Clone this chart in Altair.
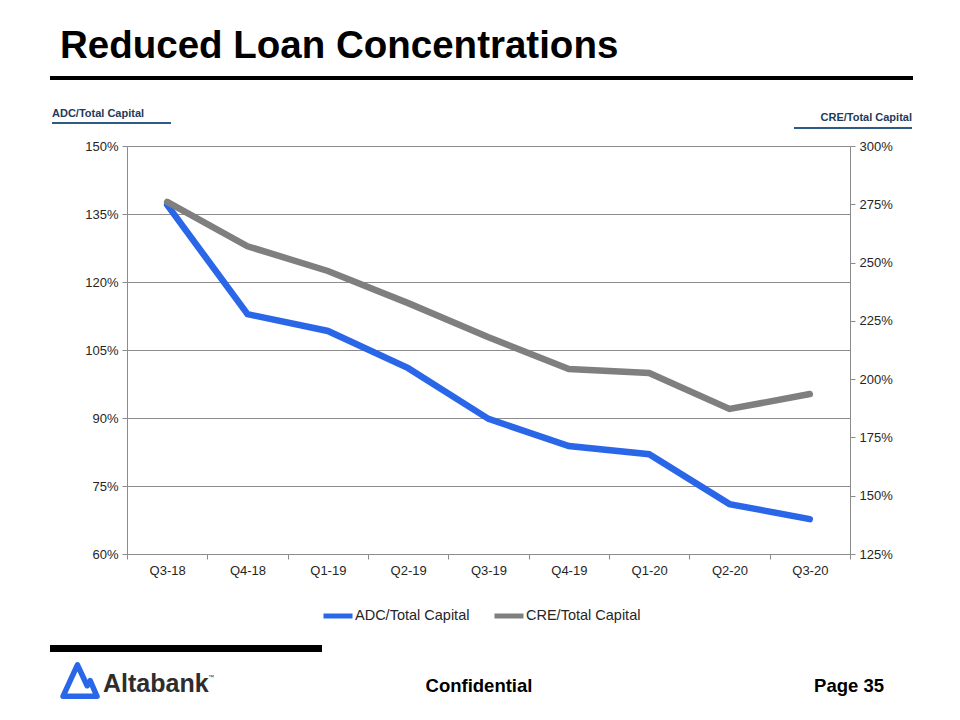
import altair as alt
import pandas as pd

# ---------------- data ----------------
quarters = ["Q3-18", "Q4-18", "Q1-19", "Q2-19", "Q3-19", "Q4-19", "Q1-20", "Q2-20", "Q3-20"]
adc_pct = [137.0, 112.9, 109.2, 101.0, 89.8, 83.8, 82.0, 71.0, 67.7]
cre_pct = [276.0, 257.0, 246.4, 232.6, 218.0, 204.3, 202.6, 187.2, 193.6]
series_names = ["ADC/Total Capital", "CRE/Total Capital"]
adc_ticks = [60, 75, 90, 105, 120, 135, 150]
cre_ticks = [125, 150, 175, 200, 225, 250, 275, 300]

df = pd.DataFrame({"quarter": quarters, "adc": adc_pct, "cre": cre_pct})

FONT = "Liberation Sans"
BLUE = "#2A66E8"
GRAY = "#7F7F7F"
AXIS_GRAY = "#8C8C8C"
LABEL = "#262626"
NAVY = "#1F3A5A"
UNDER = "#2E5B85"

color_scale = alt.Scale(domain=series_names, range=[BLUE, GRAY])

x_enc = alt.X(
    "quarter:N",
    sort=quarters,
    scale=alt.Scale(type="band", paddingInner=0, paddingOuter=0),
    bandPosition=0.5,
    axis=alt.Axis(
        title=None, labelAngle=0, tickBand="extent", grid=False,
        domainColor=AXIS_GRAY, tickColor=AXIS_GRAY, tickSize=5,
        labelFont=FONT, labelFontSize=13, labelColor=LABEL, labelPadding=5,
    ),
)

adc_line = (
    alt.Chart(df)
    .transform_calculate(series="'ADC/Total Capital'")
    .mark_line(strokeWidth=6.5, strokeCap="round")
    .encode(
        x=x_enc,
        y=alt.Y(
            "adc:Q",
            scale=alt.Scale(domain=[60, 150], nice=False, zero=False),
            axis=alt.Axis(
                title=None, values=adc_ticks, labelExpr="datum.value + '%'",
                grid=True, gridColor=AXIS_GRAY, gridWidth=1,
                domainColor=AXIS_GRAY, tickColor=AXIS_GRAY, tickSize=5,
                labelFont=FONT, labelFontSize=13, labelColor=LABEL, labelPadding=4,
            ),
        ),
        color=alt.Color(
            "series:N", scale=color_scale,
            legend=alt.Legend(
                orient="none", legendX=194, legendY=453, direction="horizontal",
                title=None, symbolType="stroke", symbolStrokeWidth=5, symbolSize=841,
                labelFont=FONT, labelFontSize=14.5, labelColor=LABEL,
                columnPadding=14, labelOffset=0, padding=0,
            ),
        ),
    )
)

cre_line = (
    alt.Chart(df)
    .transform_calculate(series="'CRE/Total Capital'")
    .mark_line(strokeWidth=6.5, strokeCap="round")
    .encode(
        x=x_enc,
        y=alt.Y(
            "cre:Q",
            scale=alt.Scale(domain=[125, 300], nice=False, zero=False),
            axis=alt.Axis(
                title=None, orient="right", values=cre_ticks, labelExpr="datum.value + '%'",
                grid=False, domainColor=AXIS_GRAY, tickColor=AXIS_GRAY, tickSize=5,
                labelFont=FONT, labelFontSize=13, labelColor=LABEL, labelPadding=4,
            ),
        ),
        color=alt.Color("series:N", scale=color_scale),
    )
)

lines = alt.layer(adc_line, cre_line).resolve_scale(y="independent")

# ---------------- decorations ----------------
one = pd.DataFrame({"k": [0]})


def txt(s, x, y, size, align="left", color="#000000", bold=True):
    return alt.Chart(one).mark_text(
        text=s, align=align, baseline="alphabetic", fontSize=size,
        fontWeight="bold" if bold else "normal", font=FONT, color=color,
    ).encode(x=alt.value(x), y=alt.value(y))


def box(x1, x2, y1, y2, color):
    return alt.Chart(one).mark_rect(color=color).encode(
        x=alt.value(x1), x2=alt.value(x2), y=alt.value(y1), y2=alt.value(y2)
    )


logo_path = "M-1,0.9 L-0.15,-0.95 L0.42,0.28 L0.6,-0.02 L1,0.9 Z"
logo = alt.Chart(one).mark_point(
    shape=logo_path, size=1156, filled=False, stroke=BLUE, strokeWidth=5.5,
    strokeJoin="round", opacity=1,
).encode(x=alt.value(-47), y=alt.value(535))

decor = [
    txt("Reduced Loan Concentrations", -67, -88, 38.5),
    box(-77, 786, -70, -66, "#000000"),
    txt("ADC/Total  Capital", -75, -29, 11, color=NAVY),
    box(-75, 44, -24, -22, UNDER),
    txt("CRE/Total  Capital", 785, -25, 11, align="right", color=NAVY),
    box(667, 785, -19, -17, UNDER),
    box(-77, 195, 499, 506, "#000000"),
    logo,
    txt("Altabank", -24, 546, 25, color="#2D2D2D"),
    txt("™", 81, 533, 6, color="#2D2D2D", bold=False),
    txt("Confidential", 352, 546, 18.5, align="center"),
    txt("Page 35", 757, 546, 18.5, align="right"),
]

chart = (
    alt.layer(lines, *decor)
    .properties(
        width=723, height=408,
        autosize=alt.AutoSizeParams(type="none"),
        padding={"left": 119, "top": 138, "right": 102, "bottom": 158},
        background="white",
    )
    .configure_view(stroke="transparent")
)

chart.save("out.html", embed_options={"renderer": "svg", "actions": False})
